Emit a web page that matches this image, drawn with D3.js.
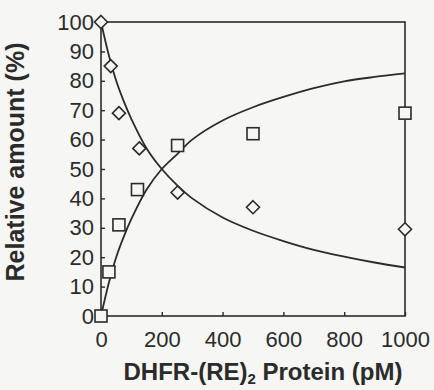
<!DOCTYPE html>
<html lang="en">
<head>
<meta charset="UTF-8">
<title>Relative amount vs DHFR-(RE)2 Protein</title>
<script src="https://d3js.org/d3.v7.min.js"></script>
<style>
    body { margin: 0; background: #f6f6f4; }
    svg text { font-family: "Liberation Sans", Arial, sans-serif; fill: #2b2b2b; }
</style>
</head>
<body>
<svg width="434" height="390"></svg>
<script>
    // measured points
    const diamondX = [0, 32, 59, 126, 252, 500, 1000];
    const diamondY = [100, 85, 69, 57, 42, 37, 29.5];
    const squareX = [0, 26, 59, 120, 252, 500, 1000];
    const squareY = [0, 15, 31, 43, 58, 62, 69];

    // fitted curves
    const fitX = [0, 25, 50, 75, 100, 150, 200, 250, 300, 400, 500, 600, 700, 800, 900, 1000];
    const fitUp = [0, 11, 20, 27, 33, 43, 50, 55, 60, 66.5, 71, 74.5, 77.5, 79.8, 81.3, 82.5];
    const fitDown = [100, 89, 80, 73, 67, 57, 50, 44.5, 40, 33.5, 29, 25.5, 22.5, 20.2, 18.2, 16.5];

    const xTicks = [0, 200, 400, 600, 800, 1000];
    const yTicks = [0, 10, 20, 30, 40, 50, 60, 70, 80, 90, 100];

    const margin = { top: 22, right: 29, bottom: 74, left: 101 };
    const width = 434 - margin.left - margin.right;
    const height = 390 - margin.top - margin.bottom;
    const ink = "#2b2b2b";

    const svg = d3.select("svg")
        .append("g")
        .attr("transform", `translate(${margin.left},${margin.top})`);

    const x = d3.scaleLinear().domain([0, 1000]).range([0, width]);
    const y = d3.scaleLinear().domain([0, 100]).range([height, 0]);

    // frame
    svg.append("rect")
        .attr("width", width)
        .attr("height", height)
        .attr("fill", "none")
        .attr("stroke", ink)
        .attr("stroke-width", 1.6);

    // axes with inward ticks
    const yAxis = svg.append("g")
        .call(d3.axisLeft(y).tickValues(yTicks).tickSize(-4).tickPadding(8));
    const xAxis = svg.append("g")
        .attr("transform", `translate(0,${height})`)
        .call(d3.axisBottom(x).tickValues(xTicks).tickFormat(d3.format("d")).tickSize(-4).tickPadding(15));

    [yAxis, xAxis].forEach(a => {
        a.select(".domain").remove();
        a.selectAll("line").attr("stroke", ink).attr("stroke-width", 1.4);
        a.selectAll("text")
            .style("font-size", "22px")
            .style("font-family", "'Liberation Sans', Arial, sans-serif")
            .attr("fill", "#333");
    });
    yAxis.selectAll("text").attr("x", -7);

    // fitted curves
    const line = d3.line()
        .x(d => x(d[0]))
        .y(d => y(d[1]))
        .curve(d3.curveCatmullRom.alpha(0.5));

    [fitUp, fitDown].forEach(vals => {
        svg.append("path")
            .datum(fitX.map((v, i) => [v, vals[i]]))
            .attr("fill", "none")
            .attr("stroke", ink)
            .attr("stroke-width", 1.8)
            .attr("d", line);
    });

    // squares
    svg.selectAll(".sq")
        .data(squareX.map((v, i) => [v, squareY[i]]))
        .enter().append("rect")
        .attr("x", d => x(d[0]) - 6)
        .attr("y", d => y(d[1]) - 6)
        .attr("width", 12)
        .attr("height", 12)
        .attr("fill", "#f6f6f4")
        .attr("stroke", ink)
        .attr("stroke-width", 1.6);

    // diamonds
    svg.selectAll(".di")
        .data(diamondX.map((v, i) => [v, diamondY[i]]))
        .enter().append("path")
        .attr("transform", d => `translate(${x(d[0])},${y(d[1])})`)
        .attr("d", "M0,-6.5L6.5,0L0,6.5L-6.5,0Z")
        .attr("fill", "#f6f6f4")
        .attr("stroke", ink)
        .attr("stroke-width", 1.6);

    // axis titles
    svg.append("text")
        .attr("transform", `translate(${24 - margin.left},${162 - margin.top}) rotate(-90)`)
        .attr("text-anchor", "middle")
        .style("font-size", "25px")
        .style("font-weight", "bold")
        .text("Relative amount (%)");

    const xt = svg.append("text")
        .attr("x", 263 - margin.left)
        .attr("y", 380 - margin.top)
        .attr("text-anchor", "middle")
        .style("font-size", "24px")
        .style("font-weight", "bold");
    xt.append("tspan").text("DHFR-(RE)");
    xt.append("tspan").attr("dy", 4).style("font-size", "15px").text("2");
    xt.append("tspan").attr("dy", -4).text(" Protein (pM)");
</script>
</body>
</html>
